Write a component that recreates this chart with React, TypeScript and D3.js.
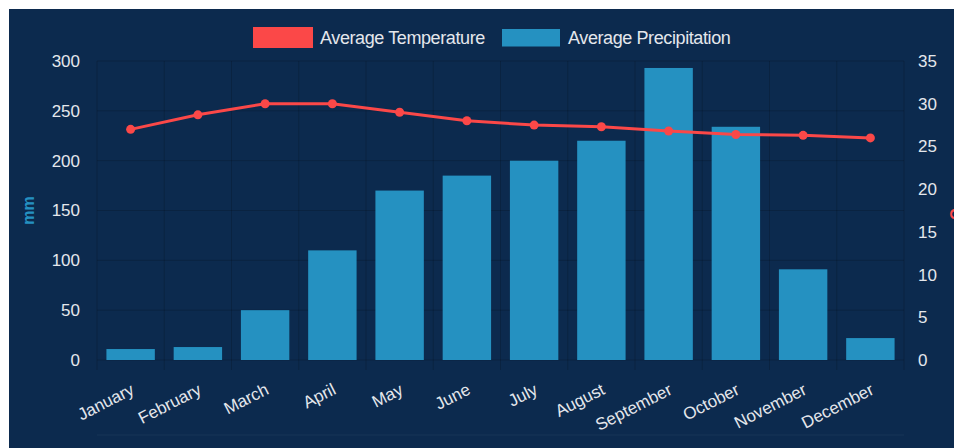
import React from "react";
import * as d3 from "d3";

const months = [
  "January", "February", "March", "April", "May", "June",
  "July", "August", "September", "October", "November", "December",
];
const precipitation = [11, 13, 50, 110, 170, 185, 200, 220, 293, 234, 91, 22];
const temperature = [27, 28.7, 30, 30, 29, 28, 27.5, 27.3, 26.8, 26.4, 26.3, 26];
const leftTicks = [0, 50, 100, 150, 200, 250, 300];
const rightTicks = [0, 5, 10, 15, 20, 25, 30, 35];

const W = 954;
const H = 440;
const BG = "#0c2a4e";
const BAR = "#2591c1";
const LINE = "#fb4848";
const TICK = "#e4e7ec";
const GRID = "rgba(0,0,0,0.16)";
const FONT = "'Liberation Sans', Arial, Helvetica, sans-serif";

const plot = { left: 89, right: 896, top: 53, bottom: 352 };

export default function App() {
  const x = d3.scaleBand<string>().domain(months).range([plot.left, plot.right]).paddingInner(0).paddingOuter(0);
  const yL = d3.scaleLinear().domain([0, 300]).range([plot.bottom, plot.top]);
  const yR = d3.scaleLinear().domain([0, 35]).range([plot.bottom, plot.top]);
  const bw = x.bandwidth() * 0.72;
  const cx = (m: string) => (x(m) as number) + x.bandwidth() / 2;

  const line = d3
    .line<number>()
    .x((_, i) => cx(months[i]))
    .y((d) => yR(d));

  const boundaries = months.map((m) => x(m) as number).concat([plot.right]);

  return (
    <>
      <style>{`body{overflow:hidden}`}</style>
      <svg width={W} height={H} style={{ display: "block" }} fontFamily={FONT}>
        <rect x={1} y={1} width={W} height={H} fill={BG} />

        {/* grid */}
        {leftTicks.map((t) => (
          <line key={"h" + t} x1={plot.left} x2={plot.right} y1={yL(t)} y2={yL(t)} stroke={GRID} strokeWidth={1} />
        ))}
        {boundaries.map((b, i) => (
          <line key={"v" + i} x1={b} x2={b} y1={plot.top} y2={plot.bottom + 10} stroke={GRID} strokeWidth={1} />
        ))}
        <line x1={plot.left} x2={plot.right} y1={427} y2={427} stroke="rgba(255,255,255,0.05)" strokeWidth={1} />

        {/* precipitation bars */}
        {precipitation.map((v, i) => (
          <rect
            key={"b" + i}
            x={cx(months[i]) - bw / 2}
            y={yL(v)}
            width={bw}
            height={yL(0) - yL(v)}
            fill={BAR}
          />
        ))}

        {/* temperature line */}
        <path d={line(temperature) as string} fill="none" stroke={LINE} strokeWidth={3} />
        {temperature.map((v, i) => (
          <circle key={"p" + i} cx={cx(months[i])} cy={yR(v)} r={4.5} fill={LINE} />
        ))}

        {/* left axis */}
        {leftTicks.map((t) => (
          <text key={"lt" + t} x={72} y={yL(t)} dy="0.35em" textAnchor="end" fontSize={17} fill={TICK}>
            {t}
          </text>
        ))}
        <text
          transform={`translate(20,${(plot.top + plot.bottom) / 2}) rotate(-90)`}
          textAnchor="middle"
          dy="0.35em"
          fontSize={16}
          fontWeight={600}
          fill={BAR}
        >
          mm
        </text>

        {/* right axis */}
        {rightTicks.map((t) => (
          <text key={"rt" + t} x={910} y={yR(t)} dy="0.35em" textAnchor="start" fontSize={17} fill={TICK}>
            {t}
          </text>
        ))}
        <text
          transform={`translate(942,${(plot.top + plot.bottom) / 2}) rotate(90)`}
          textAnchor="middle"
          fontSize={16}
          fontWeight={600}
          fill={LINE}
        >
          °C
        </text>

        {/* month labels */}
        {months.map((m) => (
          <text
            key={"m" + m}
            transform={`translate(${cx(m) + 2},380) rotate(-27)`}
            textAnchor="end"
            dy="0.35em"
            fontSize={17}
            fill={TICK}
          >
            {m}
          </text>
        ))}

        {/* legend */}
        <rect x={246.5} y={20.5} width={57} height={18} fill={LINE} stroke={LINE} strokeWidth={3} />
        <text x={312} y={36} fontSize={18} letterSpacing={-0.4} fill={TICK}>
          Average Temperature
        </text>
        <rect x={494} y={21} width={58} height={17.5} fill={BAR} />
        <text x={560} y={36} fontSize={18} letterSpacing={-0.4} fill={TICK}>
          Average Precipitation
        </text>
      </svg>
    </>
  );
}
